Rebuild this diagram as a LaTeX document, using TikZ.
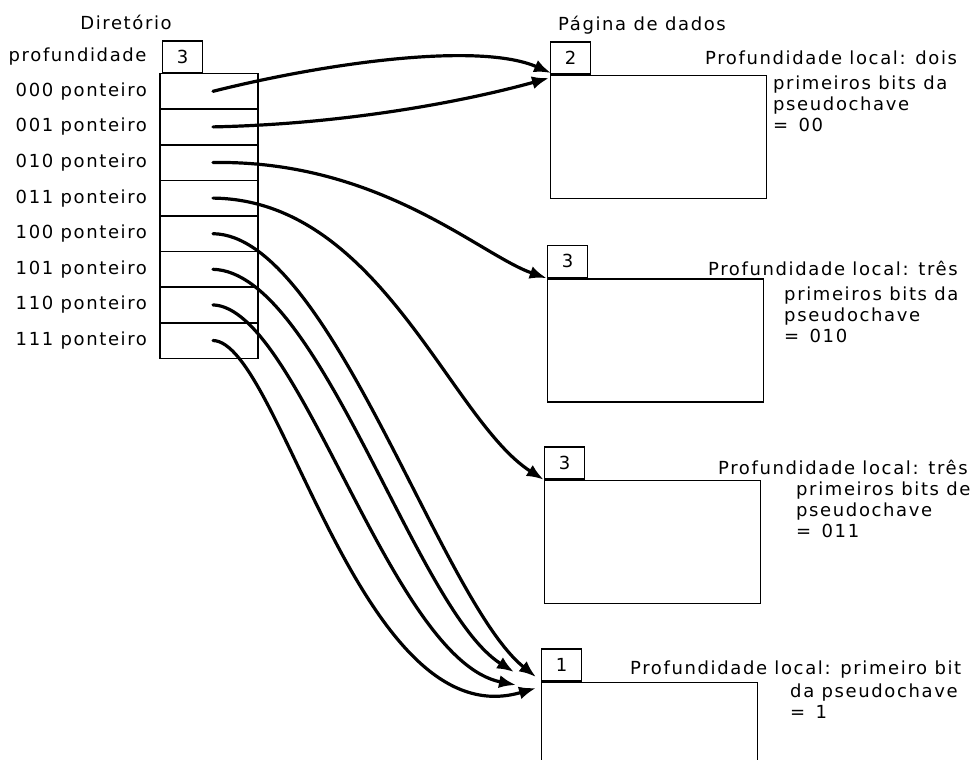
\documentclass[tikz,border=0pt]{standalone}
\usepackage{fontspec}
\setmainfont{DejaVu Sans}[LetterSpace=9]
\usetikzlibrary{arrows.meta,positioning}
\begin{document}
\begin{tikzpicture}[x=1pt,y=1pt,
    every node/.style={font=\fontsize{18}{21}\selectfont, inner sep=0pt},
    cell/.style={draw, line width=1.6pt, minimum width=98pt, minimum height=35.6pt},
    tag/.style={draw, line width=1.6pt, minimum width=40pt, minimum height=32pt},
    page/.style={draw, line width=1.6pt, minimum width=216pt, minimum height=123pt},
    note/.style={align=left, anchor=north west},
    ptr/.style={line width=3.2pt, line cap=round, -{Latex[length=17pt,width=13pt]}}]
    \useasboundingbox (0,0) rectangle (972,-760);

    % directory
    \node (dir) at (126,-22) {Diretório};
    \node[tag] (dtag) at (182.5,-57) {3};
    \node[left=15pt of dtag] (prof) {profundidade};
    \foreach \b [count=\i from 0] in {000,001,010,011,100,101,110,111} {
        \node[cell] (c\i) at (209,{-91.3-35.6*\i}) {};
        \node[left=12pt of c\i] (l\i) {\b\ ponteiro};
        \coordinate (s\i) at ([xshift=4pt]c\i.center);
    }

    % data pages
    \node (dados) at (642,-25) {Página de dados};
    \node[page] (p1) at (658.5,-137) {};
    \node[tag, anchor=south west] (t1) at (p1.north west) {2};
    \node[note] (n1) at (705,-51) {Profundidade local: dois\\[4pt]
        \hspace*{68pt}primeiros bits da\\ \hspace*{68pt}pseudochave\\ \hspace*{68pt}= \,00};
    \node[page] (p2) at (655.5,-340.5) {};
    \node[tag, anchor=south west] (t2) at (p2.north west) {3};
    \node[note] (n2) at (708,-261) {Profundidade local: três\\[4pt]
        \hspace*{76pt}primeiros bits da\\ \hspace*{76pt}pseudochave\\ \hspace*{76pt}= \,010};
    \node[page] (p3) at (652.5,-542) {};
    \node[tag, anchor=south west] (t3) at (p3.north west) {3};
    \node[note] (n3) at (718,-460) {Profundidade local: três\\[0pt]
        \hspace*{78pt}primeiros bits de\\ \hspace*{78pt}pseudochave\\ \hspace*{78pt}= \,011};
    \node[page] (p4) at (649.5,-744) {};
    \node[tag, anchor=south west] (t4) at (p4.north west) {1};
    \node[note] (n4) at (630,-661) {Profundidade local: primeiro bit\\[2pt]
        \hspace*{160pt}da pseudochave\\ \hspace*{160pt}= \,1};

    % arrow ends at the last page
    \coordinate (e0) at (551,-73);
    \coordinate (e1) at (549,-78);
    \coordinate (e4) at (536,-677);
    \coordinate (e5) at (514,-672);
    \coordinate (e6) at (516,-685);
    \coordinate (e7) at (536,-688);

    % pointers
    \draw[ptr] (s0) .. controls (330,-62) and (480,-42) .. (e0);
    \draw[ptr] (s1) .. controls (350,-124) and (470,-100) .. (e1);
    \draw[ptr] (s2) .. controls (380,-160) and (480,-255) .. (p2.north west);
    \draw[ptr] (s3) .. controls (380,-200) and (450,-420) .. (p3.north west);
    \draw[ptr] (s4) .. controls (330,-235) and (440,-600) .. (e4);
    \draw[ptr] (s5) .. controls (320,-272) and (415,-610) .. (e5);
    \draw[ptr] (s6) .. controls (300,-308) and (390,-660) .. (e6);
    \draw[ptr] (s7) .. controls (280,-342) and (360,-740) .. (e7);
\end{tikzpicture}
\end{document}
